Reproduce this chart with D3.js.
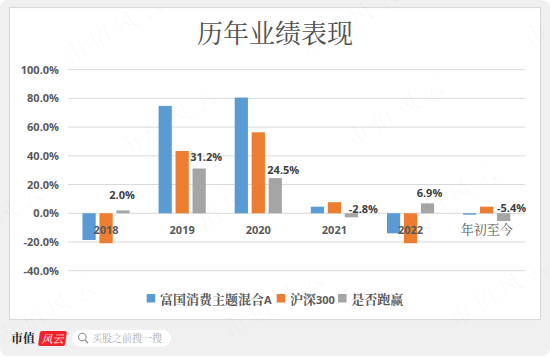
<!DOCTYPE html>
<html>
<head>
<meta charset="utf-8">
<script src="https://cdn.jsdelivr.net/npm/d3@7"></script>
<style>
  html, body { margin: 0; padding: 0; background: #fff; }
  svg { display: block; }
  text { font-family: "Open Sans", "Noto Sans", sans-serif; }
  .cjk { font-family: "Noto Serif CJK SC", "Noto Sans CJK SC", serif; }
</style>
</head>
<body>
<svg id="chart" width="550" height="358"></svg>
<script>
const title = "历年业绩表现";
const categories = ["2018", "2019", "2020", "2021", "2022", "年初至今"];
const seriesNames = ["富国消费主题混合A", "沪深300", "是否跑赢"];
const fundValues = [-18.6, 74.8, 80.6, 4.6, -14, -1];
const indexValues = [-20.9, 43.4, 56.4, 7.7, -20.9, 4.6];
const excessValues = [2.0, 31.2, 24.5, -2.8, 6.9, -5.4];
const yTicks = [-40, -20, 0, 20, 40, 60, 80, 100];
const colors = ["#5b9bd5", "#ed7d31", "#a5a5a5"];
const watermarks = [[120, 36], [355, 27], [580, 18], [-52, 140], [175, 129], [402, 118], [0, 225], [230, 215], [455, 205], [53, 318], [280, 310], [505, 298]];
// hand placed data labels, as in the original chart: [dx from bar centre, dy from bar end]
const labelNudge = [[-1, -11], [7, -7], [8, -4], [12, -0.5], [2, -6], [8, -1.5]];

const svg = d3.select("#chart");

svg.append("rect").attr("x", 0).attr("y", 0).attr("width", 550).attr("height", 356).attr("rx", 8).attr("fill", "#f0f0f0");
svg.append("rect").attr("x", 9.5).attr("y", 7.5).attr("width", 531).attr("height", 312)
  .attr("fill", "#fff").attr("stroke", "#d9d9d9").attr("stroke-width", 1.2);

const margin = { top: 69.7, right: 25.3, bottom: 87.3, left: 68 };
const innerWidth = 550 - margin.left - margin.right;
const innerHeight = 358 - margin.top - margin.bottom;

const x = d3.scaleBand().domain(categories).range([margin.left, margin.left + innerWidth]).paddingInner(0.38).paddingOuter(0.19);
const sub = d3.scaleBand().domain(d3.range(3)).range([0, x.bandwidth()]).paddingInner(0.22);
const y = d3.scaleLinear().domain([-40, 100]).range([margin.top + innerHeight, margin.top]);

svg.append("g")
  .selectAll("line")
  .data(yTicks)
  .join("line")
  .attr("x1", margin.left)
  .attr("x2", margin.left + innerWidth)
  .attr("y1", (d) => y(d))
  .attr("y2", (d) => y(d))
  .attr("stroke", "#d9d9d9")
  .attr("stroke-width", 1);

svg.append("g")
  .selectAll("text")
  .data(yTicks)
  .join("text")
  .attr("x", 59)
  .attr("y", (d) => y(d) + 4)
  .attr("text-anchor", "end")
  .attr("font-size", 11)
  .attr("font-weight", 700)
  .attr("fill", "#595959")
  .text((d) => d.toFixed(1) + "%");

const series = [fundValues, indexValues, excessValues];
series.forEach((values, s) => {
  svg.append("g")
    .selectAll("rect")
    .data(values)
    .join("rect")
    .attr("x", (d, i) => x(categories[i]) + sub(s))
    .attr("y", (d) => y(Math.max(0, d)))
    .attr("width", sub.bandwidth())
    .attr("height", (d) => Math.abs(y(d) - y(0)))
    .attr("fill", colors[s]);
});

// only the third series carries value labels
svg.append("g")
  .selectAll("text")
  .data(excessValues)
  .join("text")
  .attr("x", (d, i) => x(categories[i]) + sub(2) + sub.bandwidth() / 2 + labelNudge[i][0])
  .attr("y", (d, i) => y(Math.max(0, d)) + labelNudge[i][1])
  .attr("text-anchor", "middle")
  .attr("font-size", 11)
  .attr("font-weight", 700)
  .attr("fill", "#404040")
  .text((d) => d.toFixed(1) + "%");

const isLatin = (d) => /\d/.test(d);
svg.append("g")
  .selectAll("text")
  .data(categories)
  .join("text")
  .attr("class", (d) => (isLatin(d) ? null : "cjk"))
  .attr("x", (d) => x(d) + x.bandwidth() / 2)
  .attr("y", y(0) + 20.5)
  .attr("text-anchor", "middle")
  .attr("font-size", (d) => (isLatin(d) ? 11 : 13))
  .attr("font-weight", (d) => (isLatin(d) ? 700 : 400))
  .attr("fill", "#595959")
  .text((d) => d);

svg.append("text")
  .attr("class", "cjk")
  .attr("x", 275)
  .attr("y", 43)
  .attr("text-anchor", "middle")
  .attr("font-size", 26)
  .attr("fill", "#505050")
  .text(title);

// legend, digits and latin letters are set in the sans face
const legendX = [146.7, 276.7, 338];
const legend = svg.append("g").selectAll("g").data(seriesNames).join("g")
  .attr("transform", (d, i) => `translate(${legendX[i]},294)`);
legend.append("rect").attr("width", 8.5).attr("height", 8.5).attr("fill", (d, i) => colors[i]);
legend.append("text")
  .attr("x", 13.2)
  .attr("y", 9.5)
  .attr("font-size", 13)
  .attr("fill", "#595959")
  .selectAll("tspan")
  .data((d) => d.match(/[A-Za-z0-9]+|[^A-Za-z0-9]+/g))
  .join("tspan")
  .attr("class", (d) => (/[A-Za-z0-9]/.test(d) ? null : "cjk"))
  .attr("font-weight", 700)
  .attr("font-size", (d) => (/[A-Za-z0-9]/.test(d) ? 11 : 13))
  .text((d) => d);

// footer
svg.append("text").attr("class", "cjk").attr("x", 11).attr("y", 343).attr("font-size", 12).attr("font-weight", 700).attr("fill", "#222").text("市值");
svg.append("rect").attr("x", 39).attr("y", 331).attr("width", 27).attr("height", 15).attr("rx", 2)
  .attr("transform", "translate(0,338.5) skewX(-8) translate(0,-338.5)").attr("fill", "#f0232d");
svg.append("text").attr("x", 52.5).attr("y", 343).attr("text-anchor", "middle").attr("font-size", 11).attr("font-style", "italic").attr("fill", "#fff").attr("class", "cjk").text("风云");
svg.append("rect").attr("x", 72).attr("y", 330).attr("width", 99).attr("height", 16.5).attr("rx", 8.2).attr("fill", "#fff");
svg.append("circle").attr("cx", 82.3).attr("cy", 337).attr("r", 3.8).attr("fill", "none").attr("stroke", "#8c8c8c").attr("stroke-width", 1.1);
svg.append("line").attr("x1", 85).attr("y1", 340).attr("x2", 88).attr("y2", 343).attr("stroke", "#8c8c8c").attr("stroke-width", 1.1);
svg.append("text").attr("class", "cjk").attr("x", 92).attr("y", 342).attr("font-size", 10).attr("fill", "#a8a8a8").text("买股之前搜一搜");

// watermark sits on top of everything
svg.append("g")
  .selectAll("text")
  .data(watermarks)
  .join("text")
  .attr("class", "cjk")
  .attr("transform", (d) => `translate(${d[0]},${d[1]}) rotate(-31)`)
  .attr("text-anchor", "middle")
  .attr("font-size", 23)
  .attr("letter-spacing", 6)
  .attr("fill", "#000")
  .attr("fill-opacity", 0.03)
  .text("市值风云");
</script>
</body>
</html>
